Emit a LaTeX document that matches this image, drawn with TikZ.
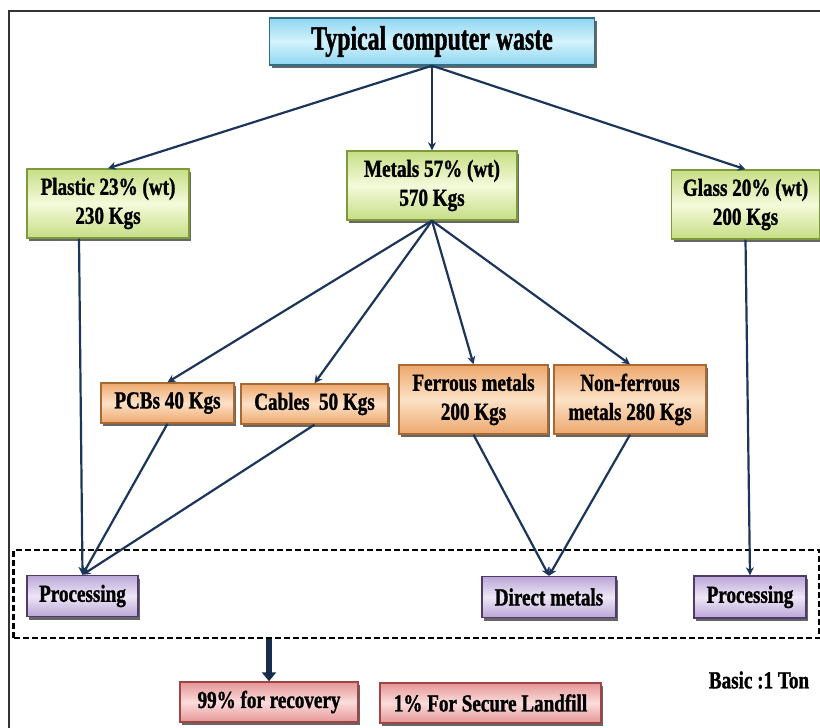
\documentclass[tikz,border=0pt]{standalone}
\usepackage{fontspec}
\setmainfont{Liberation Serif}[FakeStretch=0.78, BoldFeatures={FakeBold=1.2}]
\newfontfamily\condfont{Liberation Serif}[FakeStretch=0.7, BoldFeatures={FakeBold=1.2}]
\usetikzlibrary{shadows,arrows.meta}
\definecolor{linkc}{HTML}{1C355A}
\definecolor{cyanE}{HTML}{8FD6F2}\definecolor{cyanM}{HTML}{D3F3FC}\definecolor{cyanB}{HTML}{2E6F86}
\definecolor{grnE}{HTML}{C6DE84}\definecolor{grnM}{HTML}{F4FADB}\definecolor{grnB}{HTML}{7F9A3C}
\definecolor{orgE}{HTML}{EDA76C}\definecolor{orgM}{HTML}{FDE2C8}\definecolor{orgB}{HTML}{A86A35}
\definecolor{purE}{HTML}{BAA6D7}\definecolor{purM}{HTML}{EEE7F6}\definecolor{purB}{HTML}{4F3A6B}
\definecolor{pnkE}{HTML}{E69696}\definecolor{pnkM}{HTML}{FBDCDC}\definecolor{pnkB}{HTML}{A04545}
\begin{document}
\begin{tikzpicture}[x=1pt,y=-1pt,
  box/.style={draw, line width=1.4pt, align=center, inner sep=0pt,
    font=\bfseries\fontsize{24.5}{29}\selectfont,
    drop shadow={shadow xshift=2pt, shadow yshift=-3pt, opacity=0.6, fill=black}},
  cyanbox/.style={box, draw=cyanB, top color=cyanE, bottom color=cyanE, middle color=cyanM},
  grnbox/.style={box, draw=grnB, top color=grnE, bottom color=grnE, middle color=grnM},
  orgbox/.style={box, draw=orgB, top color=orgE, bottom color=orgE, middle color=orgM},
  purbox/.style={box, draw=purB, top color=purE, bottom color=purE, middle color=purM},
  pnkbox/.style={box, draw=pnkB, top color=pnkE, bottom color=pnkE, middle color=pnkM},
  conn/.style={draw=linkc, line width=2.2pt, -{Stealth[length=8pt,width=8pt]}},
  thickarrow/.style={draw=linkc!85!black, line width=5.5pt, -{Triangle[length=9pt,width=14pt]}},
  grpbox/.style={draw=black, line width=2.2pt, dash pattern=on 6pt off 3pt, minimum width=806pt, minimum height=88pt, inner sep=0pt},
  frame/.style={draw=black!80, line width=2.5pt}
]
\useasboundingbox (0,0) rectangle (820,728);
\draw[frame] (9,740) -- (9,11) -- (830,11);

\node[grpbox] (grp) at (416.5,594) {};

\node[cyanbox, minimum width=325pt, minimum height=47pt, font=\condfont\bfseries\fontsize{34}{38}\selectfont] (top) at (432,41.5) {Typical computer waste};

\node[grnbox, minimum width=162pt, minimum height=69pt] (plastic) at (108,203.5) {Plastic 23\% (wt)\\230 Kgs};
\node[grnbox, minimum width=170pt, minimum height=69pt] (metals) at (432,185.5) {Metals 57\% (wt)\\570 Kgs};
\node[grnbox, minimum width=148pt, minimum height=69pt] (glass) at (745.5,204.5) {Glass 20\% (wt)\\200 Kgs};

\node[orgbox, minimum width=133pt, minimum height=40pt] (pcb) at (167.5,403) {PCBs 40 Kgs};
\node[orgbox, minimum width=147pt, minimum height=40pt] (cables) at (314.5,404) {Cables\ \ 50 Kgs};
\node[orgbox, minimum width=149pt, minimum height=69pt] (ferrous) at (473.5,399.5) {Ferrous metals\\200 Kgs};
\node[orgbox, minimum width=152pt, minimum height=69pt] (nonferrous) at (630,399.5) {Non-ferrous\\metals 280 Kgs};

\node[purbox, minimum width=111pt, minimum height=41pt] (procL) at (82.5,596) {Processing};
\node[purbox, minimum width=134pt, minimum height=41pt] (direct) at (549,597) {Direct metals};
\node[purbox, minimum width=112pt, minimum height=42pt] (procR) at (750,597) {Processing};

\node[pnkbox, minimum width=178pt, minimum height=40pt] (rec) at (269,702) {99\% for recovery};
\node[pnkbox, minimum width=221pt, minimum height=40pt] (land) at (490.5,703) {1\% For Secure Landfill};

\node[font=\bfseries\fontsize{24.5}{29}\selectfont, inner sep=0pt] (basic) at (759,680) {Basic :1 Ton};

\draw[conn] (top.south) -- (plastic.north);
\draw[conn] (top.south) -- (metals.north);
\draw[conn] (top.south) -- (glass.north);

\draw[conn] (metals.south) -- (pcb.north);
\draw[conn] (metals.south) -- (cables.north);
\draw[conn] (metals.south) -- (ferrous.north);
\draw[conn] (metals.south) -- (nonferrous.north);

\draw[conn] ([xshift=-29pt]plastic.south) -- (procL.north);
\draw[conn] (pcb.south) -- (procL.north);
\draw[conn] (cables.south) -- (procL.north);
\draw[conn] (ferrous.south) -- (direct.north);
\draw[conn] (nonferrous.south) -- (direct.north);
\draw[conn] (glass.south) -- (procR.north);

\draw[thickarrow] (grp.south -| rec.north) -- (rec.north);
\end{tikzpicture}
\end{document}
